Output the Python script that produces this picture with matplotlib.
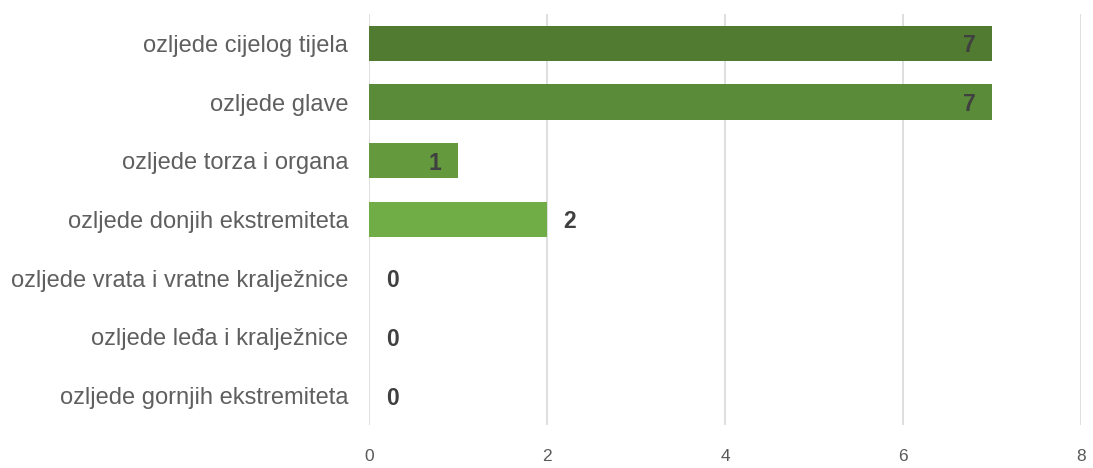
import matplotlib
matplotlib.use("Agg")
import matplotlib.pyplot as plt

categories = [
    "ozljede cijelog tijela",
    "ozljede glave",
    "ozljede torza i organa",
    "ozljede donjih ekstremiteta",
    "ozljede vrata i vratne kralježnice",
    "ozljede leđa i kralježnice",
    "ozljede gornjih ekstremiteta",
]
values = [7, 7, 1, 2, 0, 0, 0]
label_inside = [True, True, True, False, False, False, False]
bar_colors = ["#507B31", "#5A8B39", "#64993E", "#70AD47", "#70AD47", "#70AD47", "#70AD47"]
x_ticks = [0, 2, 4, 6, 8]

plt.rcParams['font.family'] = ['Liberation Sans', 'DejaVu Sans']

fig = plt.figure(figsize=(10.93, 4.68), dpi=100)
ax = fig.add_axes([369/1093, 1-425/468, (1081-369)/1093, (425-14)/468])

ypos = list(range(len(categories)))
ax.barh(ypos, values, height=0.6, color=bar_colors, zorder=3)
ax.set_ylim(len(categories)-0.5, -0.5)
ax.set_xlim(0, 8)
ax.set_xticks(x_ticks)
ax.set_xticklabels([str(t) for t in x_ticks], fontsize=12.5, color="#595959")
ax.set_yticks(ypos)
ax.set_yticklabels(categories, fontsize=17, color="#5f5f5f")
ax.tick_params(axis='y', length=0, pad=15)
ax.tick_params(axis='x', length=0, pad=17)
for s in ax.spines.values():
    s.set_visible(False)
ax.grid(axis='x', color="#d9d9d9", linewidth=1.2, zorder=0)

for y, v, inside in zip(ypos, values, label_inside):
    if inside:
        ax.annotate(str(v), (v, y), xytext=(-12, 0), textcoords='offset points',
                    ha='right', va='center_baseline', fontsize=16.5, fontweight='bold', color="#404040", zorder=4)
    else:
        ax.annotate(str(v), (v, y), xytext=(12, 0), textcoords='offset points',
                    ha='left', va='center_baseline', fontsize=16.5, fontweight='bold', color="#404040", zorder=4)

fig.savefig("out.png", dpi=100)
